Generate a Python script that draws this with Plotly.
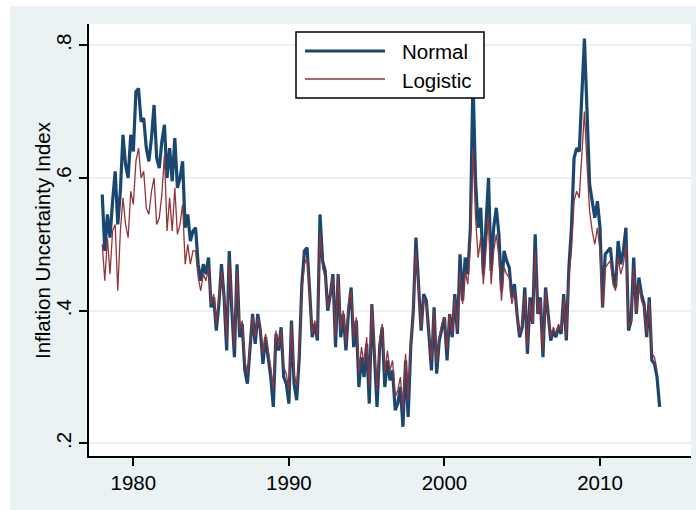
import plotly.graph_objects as go

# ---- data (bimonthly readings: Jan, Mar, May, Jul, Sep, Nov) ----
years = list(range(1978, 2014))
months = [0, 2, 4, 6, 8, 10]

normal_by_year = [
    [0.575, 0.49, 0.545, 0.51, 0.565, 0.61],   # 1978
    [0.53, 0.58, 0.665, 0.62, 0.60, 0.665],
    [0.64, 0.73, 0.735, 0.685, 0.69, 0.645],   # 1980
    [0.625, 0.66, 0.71, 0.63, 0.615, 0.655],
    [0.68, 0.60, 0.645, 0.595, 0.66, 0.585],
    [0.60, 0.625, 0.525, 0.545, 0.505, 0.52],
    [0.525, 0.47, 0.445, 0.47, 0.455, 0.48],
    [0.405, 0.42, 0.37, 0.41, 0.47, 0.42],     # 1985
    [0.34, 0.49, 0.40, 0.33, 0.47, 0.36],
    [0.38, 0.31, 0.29, 0.34, 0.395, 0.35],
    [0.395, 0.37, 0.32, 0.36, 0.33, 0.30],
    [0.255, 0.365, 0.34, 0.375, 0.30, 0.29],
    [0.26, 0.385, 0.29, 0.265, 0.33, 0.44],    # 1990
    [0.49, 0.495, 0.43, 0.36, 0.38, 0.355],
    [0.545, 0.475, 0.46, 0.40, 0.425, 0.455],
    [0.345, 0.455, 0.36, 0.395, 0.34, 0.40],
    [0.435, 0.345, 0.385, 0.285, 0.33, 0.30],
    [0.35, 0.26, 0.41, 0.32, 0.255, 0.345],    # 1995
    [0.375, 0.285, 0.325, 0.295, 0.31, 0.25],
    [0.26, 0.285, 0.225, 0.325, 0.24, 0.345],
    [0.40, 0.51, 0.43, 0.37, 0.425, 0.415],
    [0.365, 0.31, 0.405, 0.305, 0.355, 0.375],
    [0.39, 0.325, 0.395, 0.36, 0.425, 0.365],  # 2000
    [0.485, 0.415, 0.48, 0.455, 0.525, 0.75],
    [0.595, 0.525, 0.555, 0.455, 0.53, 0.60],
    [0.46, 0.525, 0.555, 0.515, 0.43, 0.49],
    [0.475, 0.465, 0.42, 0.44, 0.395, 0.36],
    [0.375, 0.435, 0.335, 0.42, 0.38, 0.515],  # 2005
    [0.395, 0.42, 0.33, 0.435, 0.395, 0.355],
    [0.37, 0.36, 0.375, 0.365, 0.425, 0.355],
    [0.465, 0.525, 0.63, 0.645, 0.64, 0.715],
    [0.81, 0.70, 0.59, 0.565, 0.54, 0.565],
    [0.525, 0.405, 0.485, 0.49, 0.495, 0.455], # 2010
    [0.435, 0.505, 0.47, 0.49, 0.525, 0.37],
    [0.385, 0.48, 0.395, 0.45, 0.425, 0.41],
    [0.36, 0.42, 0.325, 0.32, 0.30, 0.255],
]

logistic_by_year = [
    [0.50, 0.445, 0.51, 0.455, 0.52, 0.53],    # 1978
    [0.43, 0.52, 0.57, 0.53, 0.51, 0.58],
    [0.56, 0.625, 0.645, 0.60, 0.61, 0.555],   # 1980
    [0.545, 0.58, 0.60, 0.53, 0.54, 0.575],
    [0.635, 0.52, 0.57, 0.52, 0.585, 0.515],
    [0.53, 0.56, 0.47, 0.50, 0.47, 0.49],
    [0.49, 0.45, 0.43, 0.455, 0.445, 0.465],
    [0.41, 0.425, 0.38, 0.415, 0.46, 0.42],    # 1985
    [0.355, 0.475, 0.405, 0.345, 0.46, 0.37],
    [0.385, 0.325, 0.305, 0.35, 0.39, 0.36],
    [0.39, 0.375, 0.335, 0.365, 0.34, 0.315],
    [0.28, 0.37, 0.345, 0.37, 0.315, 0.305],
    [0.28, 0.38, 0.305, 0.285, 0.34, 0.43],    # 1990
    [0.47, 0.48, 0.425, 0.365, 0.385, 0.36],
    [0.52, 0.465, 0.45, 0.405, 0.425, 0.45],
    [0.36, 0.455, 0.37, 0.40, 0.35, 0.41],
    [0.43, 0.36, 0.39, 0.305, 0.345, 0.32],
    [0.36, 0.285, 0.41, 0.335, 0.28, 0.355],   # 1995
    [0.38, 0.305, 0.34, 0.31, 0.325, 0.27],
    [0.28, 0.30, 0.25, 0.335, 0.265, 0.35],
    [0.40, 0.49, 0.425, 0.375, 0.42, 0.41],
    [0.37, 0.325, 0.40, 0.32, 0.36, 0.38],
    [0.39, 0.34, 0.395, 0.365, 0.42, 0.37],    # 2000
    [0.46, 0.41, 0.46, 0.44, 0.50, 0.645],
    [0.54, 0.48, 0.51, 0.44, 0.49, 0.545],
    [0.44, 0.49, 0.515, 0.48, 0.415, 0.465],
    [0.455, 0.45, 0.41, 0.43, 0.395, 0.365],
    [0.38, 0.425, 0.345, 0.415, 0.38, 0.49],   # 2005
    [0.395, 0.415, 0.34, 0.43, 0.39, 0.36],
    [0.375, 0.365, 0.38, 0.37, 0.42, 0.36],
    [0.45, 0.49, 0.565, 0.58, 0.57, 0.64],
    [0.70, 0.62, 0.55, 0.52, 0.50, 0.525],
    [0.49, 0.405, 0.465, 0.47, 0.475, 0.44],   # 2010
    [0.43, 0.48, 0.455, 0.47, 0.50, 0.375],
    [0.385, 0.465, 0.395, 0.44, 0.415, 0.405],
    [0.365, 0.415, 0.335, 0.33, 0.31, None],
]

series_names = ["Normal", "Logistic"]
x_tick_vals = [1980, 1990, 2000, 2010]
y_tick_vals = [0.2, 0.4, 0.6, 0.8]
y_tick_text = [".2", ".4", ".6", ".8"]
y_title = "Inflation Uncertainty Index"

# ---- build ----
x = [yr + m / 12 for yr in years for m in months]
normal = [v for row in normal_by_year for v in row]
logistic = [v for row in logistic_by_year for v in row]

NAVY = "#1A476F"
MAROON = "#90353B"
BG = "#EAF2F3"
FONT = "Liberation Sans, Arial, sans-serif"

fig = go.Figure()
fig.add_trace(go.Scatter(x=x, y=normal, mode="lines", name=series_names[0],
                         line=dict(color=NAVY, width=3.2), showlegend=False))
fig.add_trace(go.Scatter(x=x, y=logistic, mode="lines", name=series_names[1],
                         line=dict(color=MAROON, width=1.3), showlegend=False,
                         connectgaps=False))

W, H = 696, 510
L, R, T, B = 89, 5, 24, 54
pw, ph = W - L - R, H - T - B


def px(xp):
    return (xp - L) / pw


def py(yp):
    return (H - B - yp) / ph


shapes = [
    # white page margins (left, top)
    dict(type="rect", xref="paper", yref="paper", x0=px(-5), x1=px(10), y0=py(600), y1=py(-50),
         fillcolor="white", line=dict(width=0), layer="above"),
    dict(type="rect", xref="paper", yref="paper", x0=px(-5), x1=px(720), y0=py(6), y1=py(-50),
         fillcolor="white", line=dict(width=0), layer="above"),
    # legend box
    dict(type="rect", xref="paper", yref="paper", x0=px(296), x1=px(484), y0=py(98), y1=py(32),
         fillcolor="white", line=dict(color="black", width=1.5), layer="above"),
    dict(type="line", xref="paper", yref="paper", x0=px(305), x1=px(385), y0=py(51), y1=py(51),
         line=dict(color=NAVY, width=3.2), layer="above"),
    dict(type="line", xref="paper", yref="paper", x0=px(305), x1=px(385), y0=py(79), y1=py(79),
         line=dict(color=MAROON, width=1.3), layer="above"),
]

annotations = [
    dict(text=series_names[0], xref="paper", yref="paper", x=px(400), y=py(52),
         xanchor="left", yanchor="middle", showarrow=False,
         font=dict(family=FONT, size=20.5, color="black")),
    dict(text=series_names[1], xref="paper", yref="paper", x=px(400), y=py(80),
         xanchor="left", yanchor="middle", showarrow=False,
         font=dict(family=FONT, size=20.5, color="black")),
    dict(text=y_title, xref="paper", yref="paper", x=px(42), y=0.5,
         xanchor="center", yanchor="middle", textangle=-90, showarrow=False,
         font=dict(family=FONT, size=20.5, color="black")),
]

fig.update_layout(
    width=W, height=H, autosize=False,
    margin=dict(l=L, r=R, t=T, b=B, pad=0),
    paper_bgcolor=BG, plot_bgcolor="white",
    font=dict(family=FONT, size=20.5, color="black"),
    shapes=shapes, annotations=annotations,
    showlegend=False,
    xaxis=dict(range=[1977.15, 2015.85], tickvals=x_tick_vals,
               showgrid=False, zeroline=False,
               showline=True, linecolor="black", linewidth=1.5,
               ticks="outside", ticklen=8, tickwidth=1.5, tickcolor="black",
               tickfont=dict(family=FONT, size=20.5, color="black")),
    yaxis=dict(range=[0.181, 0.832], tickvals=y_tick_vals, ticktext=y_tick_text,
               showgrid=True, gridcolor=BG, gridwidth=1.8, zeroline=False,
               showline=True, linecolor="black", linewidth=1.5,
               ticks="outside", ticklen=8, tickwidth=1.5, tickcolor="black",
               tickangle=-90,
               tickfont=dict(family=FONT, size=20.5, color="black")),
)

fig.write_html("out.html", config={"displayModeBar": False})
